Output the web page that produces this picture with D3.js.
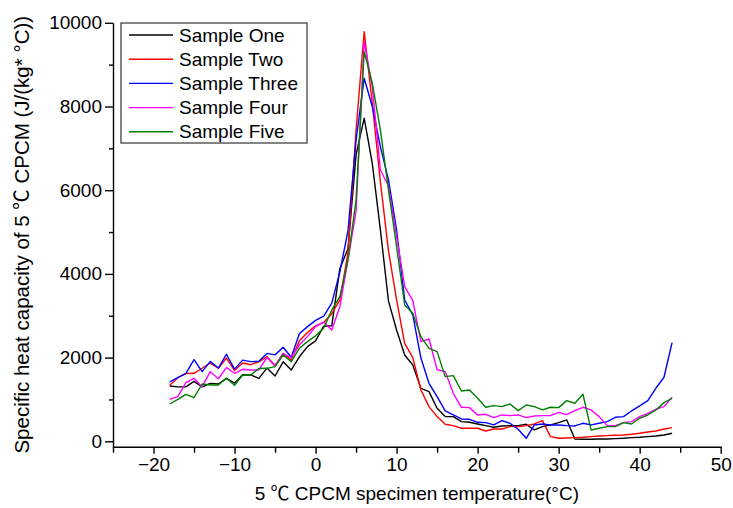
<!DOCTYPE html>
<html>
<head>
<meta charset="utf-8">
<script src="https://cdn.jsdelivr.net/npm/d3@7"></script>
<style>
  html, body { margin: 0; padding: 0; background: #fff; }
  svg { display: block; }
  text { font-family: "Liberation Sans", Arial, "Noto Sans CJK SC", sans-serif; fill: #000; }
</style>
</head>
<body>
<svg id="chart" width="733" height="508"></svg>
<script>
// ---- data ----
const temperatures = d3.range(-18, 45); // -18 .. 44 °C, 1 °C step
const seriesNames = ["Sample One", "Sample Two", "Sample Three", "Sample Four", "Sample Five"];
const seriesColors = ["#000000", "#ff0000", "#0000ff", "#ff00ff", "#008000"];

const sampleOne = [1320,1300,1300,1430,1300,1385,1370,1505,1390,1590,1585,1505,1750,1560,1900,1705,2020,2262,2400,2750,2760,4130,4600,6850,7720,6640,5050,3350,2660,2063,1824,1267,1187,789,590,590,470,454,414,375,335,367,375,375,406,271,351,391,446,510,56,48,48,56,56,64,72,88,96,111,127,151,191];
const sampleTwo = [1340,1520,1620,1625,1745,1870,1745,1990,1690,1870,1830,1900,2023,1810,2102,1943,2400,2600,2760,2840,3050,3380,4500,7440,9790,8080,6200,4550,3377,2342,1999,1226,829,590,406,375,311,311,311,247,295,295,351,351,375,414,494,111,72,80,88,96,111,127,135,143,151,167,191,223,247,295,327];
const sampleThree = [1420,1520,1625,1950,1664,1910,1750,2080,1725,1940,1903,1910,2100,2065,2246,2010,2570,2740,2890,2990,3300,4050,5030,7200,8676,8000,7041,6245,5050,3377,3019,1990,1386,1067,725,630,534,526,454,446,391,494,430,287,72,391,414,391,391,375,367,430,391,430,470,574,590,725,845,972,1267,1530,2357];
const sampleFour = [1003,1067,1400,1505,1300,1664,1495,1760,1625,1720,1704,1704,2000,1800,2095,2000,2300,2501,2740,2850,2660,3217,4333,5500,9550,8476,6484,6100,4890,3695,3360,2381,2445,1710,1665,1147,813,805,630,645,566,630,614,630,566,606,614,614,693,637,733,813,749,590,375,375,446,470,590,669,765,829,1052];
const sampleFive = [891,1003,1122,1043,1369,1345,1345,1505,1340,1585,1585,1740,1744,1784,2062,1903,2222,2381,2520,2700,3138,3456,4333,5770,9311,8556,7440,6006,4651,3257,3059,2501,2222,2142,1545,1569,1203,1227,1028,813,853,829,893,733,868,829,749,813,805,972,909,1124,271,311,351,351,446,414,550,629,749,924,1028];

const xMajorTicks = [-20, -10, 0, 10, 20, 30, 40, 50];
const xMinorTicks = [-25, -15, -5, 5, 15, 25, 35, 45];
const yMajorTicks = [0, 2000, 4000, 6000, 8000, 10000];
const yMinorTicks = [1000, 3000, 5000, 7000, 9000];
const xTitle = "5 \u2103 CPCM specimen temperature(°C)";
const yTitle = "Specific heat capacity of 5 \u2103 CPCM (J/(kg* °C))";

// ---- drawing ----
const allSeries = [sampleOne, sampleTwo, sampleThree, sampleFour, sampleFive];
const svg = d3.select("#chart");

const x = d3.scaleLinear().domain([-25, 50]).range([113, 720.7]);
const y = d3.scaleLinear().domain([-129, 10000]).range([446.7, 22.8]);

const fontSize = 19;

// X axis
const xAxisG = svg.append("g").attr("transform", `translate(0,${y(-129)})`);
xAxisG.call(d3.axisBottom(x).tickValues(xMajorTicks).tickSizeInner(7).tickSizeOuter(0).tickPadding(4).tickFormat(d3.format("d")));
const xMinorG = svg.append("g").attr("transform", `translate(0,${y(-129)})`);
xMinorG.call(d3.axisBottom(x).tickValues(xMinorTicks).tickSizeInner(6).tickSizeOuter(0).tickFormat(""));
xMinorG.select(".domain").remove();

// Y axis
const yAxisG = svg.append("g").attr("transform", `translate(${x(-25)},0)`);
yAxisG.call(d3.axisLeft(y).tickValues(yMajorTicks).tickSizeInner(8).tickSizeOuter(0).tickPadding(3).tickFormat(d3.format("d")));
const yMinorG = svg.append("g").attr("transform", `translate(${x(-25)},0)`);
yMinorG.call(d3.axisLeft(y).tickValues(yMinorTicks).tickSizeInner(4).tickSizeOuter(0).tickFormat(""));
yMinorG.select(".domain").remove();

svg.selectAll(".domain, .tick line").attr("stroke", "#000").attr("stroke-width", 1.4);
svg.selectAll(".tick text").attr("font-size", fontSize).attr("font-family", "Liberation Sans, Arial, sans-serif").attr("fill", "#000");

// Lines
const line = d3.line().x((d, i) => x(temperatures[i])).y(d => y(d));
allSeries.forEach((s, k) => {
  svg.append("path")
    .datum(s)
    .attr("d", line)
    .attr("fill", "none")
    .attr("stroke", seriesColors[k])
    .attr("stroke-width", 1.4)
    .attr("stroke-linejoin", "round");
});

// Axis titles
svg.append("text")
  .attr("x", (x(-25) + x(50)) / 2)
  .attr("y", 500)
  .attr("text-anchor", "middle")
  .attr("font-size", fontSize)
  .text(xTitle);

svg.append("text")
  .attr("transform", `translate(29,${(y(-129) + y(10000)) / 2}) rotate(-90)`)
  .attr("text-anchor", "middle")
  .attr("font-size", 20.5)
  .text(yTitle);

// Legend
const legend = svg.append("g");
legend.append("rect")
  .attr("x", 121).attr("y", 23).attr("width", 186).attr("height", 120)
  .attr("fill", "#fff").attr("stroke", "#333").attr("stroke-width", 1.2);
seriesNames.forEach((name, k) => {
  const yy = 35 + k * 24.2;
  legend.append("line")
    .attr("x1", 129).attr("x2", 173).attr("y1", yy).attr("y2", yy)
    .attr("stroke", seriesColors[k]).attr("stroke-width", 1.4);
  legend.append("text")
    .attr("x", 179).attr("y", yy)
    .attr("dy", "0.35em")
    .attr("font-size", fontSize)
    .text(name);
});
</script>
</body>
</html>
